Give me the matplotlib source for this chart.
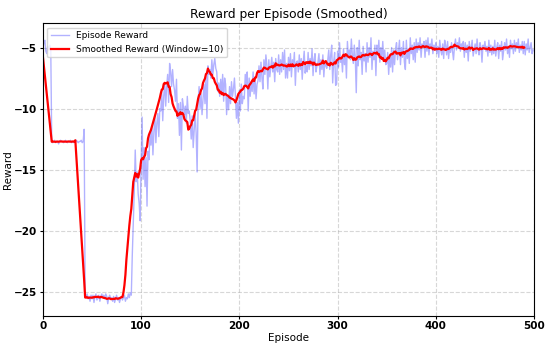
import numpy as np
import matplotlib
matplotlib.use("Agg")
import matplotlib.pyplot as plt

# episode rewards, 100 episodes per list
rewards_000 = [
    -5.0, -4.6, -4.4, -5.3, -5.5, -4.9, -5.2, -4.8, -5.1, -12.7,
    -12.8, -12.7, -12.6, -12.8, -12.7, -12.7, -12.9, -12.7, -12.6, -12.7,
    -12.7, -12.8, -12.7, -12.6, -12.7, -12.8, -12.7, -12.7, -12.6, -12.8,
    -12.7, -12.8, -12.7, -12.7, -12.6, -12.7, -12.8, -12.7, -12.7, -12.6,
    -12.8, -12.7, -11.7, -25.3, -25.5, -25.2, -25.6, -25.4, -25.8, -25.3,
    -25.6, -25.3, -25.9, -25.4, -25.2, -25.7, -25.5, -25.3, -25.8, -25.4,
    -25.2, -25.5, -25.3, -25.6, -25.2, -25.4, -26.0, -25.5, -25.3, -25.6,
    -25.5, -25.8, -25.4, -25.9, -25.6, -25.3, -25.7, -25.5, -25.9, -25.6,
    -25.4, -25.7, -25.5, -25.3, -25.8, -25.5, -25.6, -25.2, -25.5, -25.1,
    -25.3, -22.0, -19.5, -16.8, -13.4, -16.0, -15.2, -17.0, -17.8, -19.2,
]
rewards_100 = [
    -14.5, -10.7, -15.8, -13.2, -16.4, -14.0, -18.0, -13.5, -14.2, -12.0,
    -13.0, -11.5, -13.8, -11.9, -10.6, -12.8, -11.2, -10.4, -12.3, -10.0,
    -10.2, -8.6, -11.0, -9.0, -7.9, -9.8, -8.2, -7.2, -9.5, -6.3,
    -7.0, -8.2, -6.8, -8.0, -8.5, -9.4, -7.6, -10.8, -9.6, -12.2,
    -9.5, -13.4, -9.2, -9.8, -10.5, -9.8, -11.2, -9.0, -10.4, -10.2,
    -11.0, -12.5, -10.6, -13.2, -11.8, -10.4, -12.0, -15.2, -9.5, -8.2,
    -10.0, -8.8, -10.5, -9.2, -8.0, -9.6, -7.4, -10.8, -6.5, -7.2,
    -6.8, -7.5, -6.0, -7.2, -6.4, -5.9, -6.7, -7.0, -8.6, -7.9,
    -9.0, -7.6, -8.8, -7.2, -9.4, -7.5, -8.0, -10.5, -8.9, -10.1,
    -8.2, -9.6, -7.8, -9.0, -8.4, -7.5, -9.0, -10.8, -9.5, -11.2,
]
rewards_200 = [
    -8.5, -10.2, -8.0, -9.6, -9.0, -9.2, -7.2, -8.1, -7.0, -10.2,
    -7.5, -9.0, -7.8, -8.6, -7.0, -8.8, -7.4, -9.2, -8.0, -7.7,
    -6.5, -7.8, -6.2, -7.5, -8.4, -6.0, -7.2, -5.6, -6.4, -8.4,
    -6.0, -7.4, -6.6, -5.8, -7.0, -6.2, -7.8, -5.9, -6.8, -7.0,
    -5.6, -7.2, -6.0, -7.0, -5.4, -6.8, -5.2, -7.5, -6.3, -7.5,
    -5.8, -6.9, -5.5, -7.4, -6.0, -6.6, -5.4, -8.1, -6.2, -6.1,
    -7.0, -5.6, -6.8, -5.9, -7.6, -6.2, -5.3, -7.1, -6.5, -7.0,
    -5.4, -6.8, -5.9, -6.5, -5.1, -7.3, -6.0, -5.5, -7.0, -6.5,
    -6.2, -5.5, -7.2, -6.0, -6.8, -5.6, -7.4, -6.1, -6.5, -6.7,
    -6.0, -5.2, -6.8, -5.6, -4.8, -7.9, -6.2, -5.4, -8.1, -8.0,
]
rewards_300 = [
    -5.3, -6.6, -4.6, -6.2, -5.8, -7.0, -5.1, -6.4, -5.5, -7.5,
    -4.5, -5.8, -5.2, -6.0, -4.3, -5.6, -6.3, -4.8, -5.8, -8.7,
    -5.0, -6.5, -4.4, -6.0, -5.4, -7.2, -4.9, -6.1, -5.5, -7.0,
    -4.6, -6.2, -5.0, -5.8, -4.2, -6.8, -5.3, -6.0, -4.8, -7.3,
    -4.8, -5.6, -4.4, -6.2, -5.0, -5.8, -4.5, -6.1, -5.2, -6.4,
    -6.3, -5.4, -7.2, -5.8, -6.6, -5.0, -7.0, -5.2, -6.4, -5.1,
    -4.6, -6.0, -5.3, -4.4, -6.4, -5.0, -5.8, -4.5, -6.2, -6.8,
    -4.4, -5.9, -5.1, -6.3, -4.2, -5.5, -4.8, -6.0, -4.6, -6.2,
    -4.3, -5.4, -4.6, -5.2, -4.2, -5.8, -4.7, -5.0, -4.5, -5.8,
    -4.4, -5.3, -4.2, -5.6, -4.7, -5.0, -4.3, -5.5, -4.8, -5.2,
]
rewards_400 = [
    -4.6, -5.5, -4.9, -5.8, -4.4, -5.2, -5.6, -4.7, -5.9, -4.4,
    -4.8, -5.6, -4.5, -5.9, -5.0, -5.4, -4.6, -5.3, -6.0, -4.9,
    -4.3, -5.2, -4.6, -5.0, -4.2, -5.3, -4.7, -4.9, -4.5, -5.8,
    -4.6, -5.4, -4.8, -6.1, -4.5, -5.3, -5.0, -4.4, -5.7, -5.2,
    -4.7, -5.5, -4.3, -5.2, -5.6, -4.6, -5.0, -6.2, -4.8, -5.1,
    -4.5, -5.3, -4.9, -5.7, -4.4, -5.4, -4.8, -5.6, -4.9, -5.5,
    -4.4, -5.7, -5.0, -4.6, -5.9, -4.8, -5.3, -4.5, -6.0, -5.3,
    -4.6, -5.2, -4.3, -5.5, -4.9, -5.8, -4.4, -5.1, -4.7, -5.5,
    -4.4, -5.3, -4.6, -5.0, -4.3, -5.4, -4.8, -5.2, -4.5, -5.5,
    -4.5, -5.6, -4.7, -5.2, -4.3, -5.4, -5.0, -4.6, -5.5, -5.2,
]
window = 10

rewards = np.array(rewards_000 + rewards_100 + rewards_200 + rewards_300 + rewards_400)
smoothed = np.convolve(rewards, np.ones(window) / window, mode="valid")

fig = plt.figure(figsize=(5.5, 3.51), dpi=100)
ax = fig.add_axes([0.078, 0.100, 0.893, 0.834])

ax.plot(rewards, color="blue", alpha=0.3, linewidth=1, label="Episode Reward")
ax.plot(smoothed, color="red", linewidth=1.6, label=f"Smoothed Reward (Window={window})")

ax.set_title("Reward per Episode (Smoothed)", fontsize=8.8, pad=4)
ax.set_xlabel("Episode", fontsize=7.5, labelpad=1)
ax.set_ylabel("Reward", fontsize=7.5, labelpad=1)
ax.set_xlim(0, 500)
ax.set_ylim(-27, -3)
ax.set_xticks([0, 100, 200, 300, 400, 500])
ax.set_yticks([-25, -20, -15, -10, -5])
for lbl in ax.get_xticklabels() + ax.get_yticklabels():
    lbl.set_fontweight("bold")
    lbl.set_fontsize(7.5)
ax.tick_params(length=2.5, pad=1.5)
ax.grid(True, linestyle="--", alpha=0.5)
ax.legend(loc="upper left", fontsize=6.5)

fig.savefig("out.png", dpi=100)
